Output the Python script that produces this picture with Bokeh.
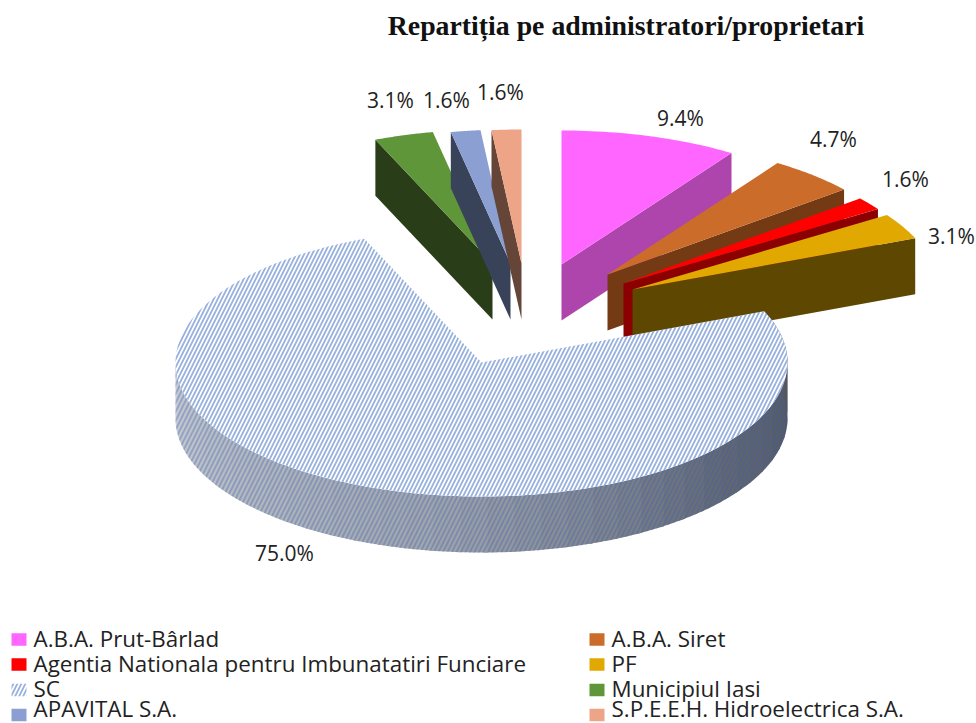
import math
from bokeh.plotting import figure
from bokeh.models import Range1d
from bokeh.core.properties import value
from bokeh.embed import file_html
from bokeh.resources import INLINE

title_text = "Repartiția  pe administratori/proprietari"
categories = ["A.B.A. Prut-Bârlad", "A.B.A. Siret", "Agentia Nationala pentru Imbunatatiri Funciare", "PF",
              "SC", "Municipiul Iasi", "APAVITAL S.A.", "S.P.E.E.H. Hidroelectrica S.A."]
shares = [9.375, 4.6875, 1.5625, 3.125, 75.0, 3.125, 1.5625, 1.5625]
labels = ["9.4%", "4.7%", "1.6%", "3.1%", "75.0%", "3.1%", "1.6%", "1.6%"]

top_colors = ["#FF66FF", "#CC6C2A", "#FF0000", "#E0A800", "#FFFFFF", "#5F9639", "#8C9FD2", "#EDA487"]
wall_colors = ["#AD45AD", "#733A14", "#8B0000", "#5E4700", "#8B97AB", "#283D18", "#384258", "#644537"]
HATCH = "#4472C4"

# layout of the exploded pie, in page pixels
RX, RY, DEPTH = 306, 134, 56
apex_x = [561, 607, 623, 632, 481, 492, 510, 521]
apex_y = [264, 274, 283, 289, 362, 263, 263, 263]
label_x = [680, 833, 905, 951, 284, 390, 446, 500]
label_y = [117, 138, 178, 235, 552, 99, 99, 91]

legend_x = [11, 589]
legend_y = [639, 664, 689.5, 714.5]
legend_text_y = [638, 663, 688, 708]

p = figure(width=976, height=723, output_backend="svg", toolbar_location=None,
           x_range=Range1d(0, 976), y_range=Range1d(723, 0), min_border=0,
           x_axis_type=None, y_axis_type=None, outline_line_color=None)
p.grid.visible = False
p.background_fill_color = "white"
p.border_fill_color = "white"


def rim(cx, cy, a0, a1, n=80, dy=0):
    xs, ys = [], []
    for i in range(n + 1):
        t = math.radians(a0 + (a1 - a0) * i / n)
        xs.append(cx + RX * math.sin(t))
        ys.append(cy - RY * math.cos(t) + dy)
    return xs, ys


def lerp_color(t):
    # wall shading: dark on the right, light on the left
    stops = [(0.0, (72, 76, 86)), (0.3, (100, 104, 114)), (0.6, (160, 164, 172)), (1.0, (198, 202, 210))]
    for (t0, c0), (t1, c1) in zip(stops, stops[1:]):
        if t <= t1:
            f = (t - t0) / (t1 - t0)
            return "#%02x%02x%02x" % tuple(int(a + (b - a) * f) for a, b in zip(c0, c1))
    return "#c6cad2"


angles = []
acc = 0.0
for s in shares:
    a0 = acc * 3.6
    acc += s
    angles.append((a0, acc * 3.6))

SC = categories.index("SC")
order = [0, 1, 2, 3, 5, 6, 7, 4]
for i in order:
    a0, a1 = angles[i]
    cx, cy = apex_x[i], apex_y[i]
    if i == SC:
        # outer wall, in shaded strips
        vis0, vis1 = a0, 270.0
        n = 40
        for k in range(n):
            b0 = vis0 + (vis1 - vis0) * k / n
            b1 = vis0 + (vis1 - vis0) * (k + 1.15) / n
            b1 = min(b1, vis1)
            xt, yt = rim(cx, cy, b0, b1, 6)
            xb, yb = rim(cx, cy, b0, b1, 6, DEPTH)
            col = lerp_color(k / (n - 1))
            p.patch(xt + xb[::-1], yt + yb[::-1], fill_color=col, line_color=None)
        xt, yt = rim(cx, cy, vis0, vis1, 120)
        xb, yb = rim(cx, cy, vis0, vis1, 120, DEPTH)
        p.patch(xt + xb[::-1], yt + yb[::-1], fill_color=None, fill_alpha=0, line_color=None,
                hatch_pattern="right_diagonal_line", hatch_color="#3A62B0", hatch_alpha=0.35,
                hatch_scale=9, hatch_weight=1.8)
        xt, yt = rim(cx, cy, a0, a1, 160)
        p.patch([cx] + xt, [cy] + yt, fill_color="white", line_color=None,
                hatch_pattern="right_diagonal_line", hatch_color=HATCH, hatch_alpha=0.55,
                hatch_scale=8, hatch_weight=1.8)
    else:
        # radial wall that faces the viewer
        a = a1 if i <= 3 else a0
        t = math.radians(a)
        ex = cx + RX * math.sin(t)
        ey = cy - RY * math.cos(t)
        p.patch([cx, ex, ex, cx], [cy, ey, ey + DEPTH, cy + DEPTH],
                fill_color=wall_colors[i], line_color=None)
        xt, yt = rim(cx, cy, a0, a1, 30)
        p.patch([cx] + xt, [cy] + yt, fill_color=top_colors[i], line_color=None)

# data labels
p.text(label_x, label_y, text=labels, text_font=value("Open Sans"), text_font_size="21px",
       text_color="#222222", text_align="center", text_baseline="middle")

# title
p.text([629], [25], text=[title_text], text_font=value("Liberation Serif"), text_font_size="27.8px",
       text_font_style="bold", text_color="#111111", text_align="center", text_baseline="middle")

# legend
for i, name in enumerate(categories):
    lx = legend_x[i % 2]
    ly = legend_y[i // 2]
    if i == SC:
        p.rect([lx + 7.5], [ly], width=15, height=12.5, fill_color="white", line_color=None,
               hatch_pattern="right_diagonal_line", hatch_color=HATCH, hatch_alpha=0.55,
               hatch_scale=8, hatch_weight=1.8)
    else:
        p.rect([lx + 7.5], [ly], width=15, height=12.5, fill_color=top_colors[i], line_color=None)
    p.text([lx + 22], [legend_text_y[i // 2]], text=[name], text_font=value("Open Sans"), text_font_size="22.4px",
           text_color="#222222", text_align="left", text_baseline="middle")

open("out.html", "w").write(file_html(p, INLINE))
